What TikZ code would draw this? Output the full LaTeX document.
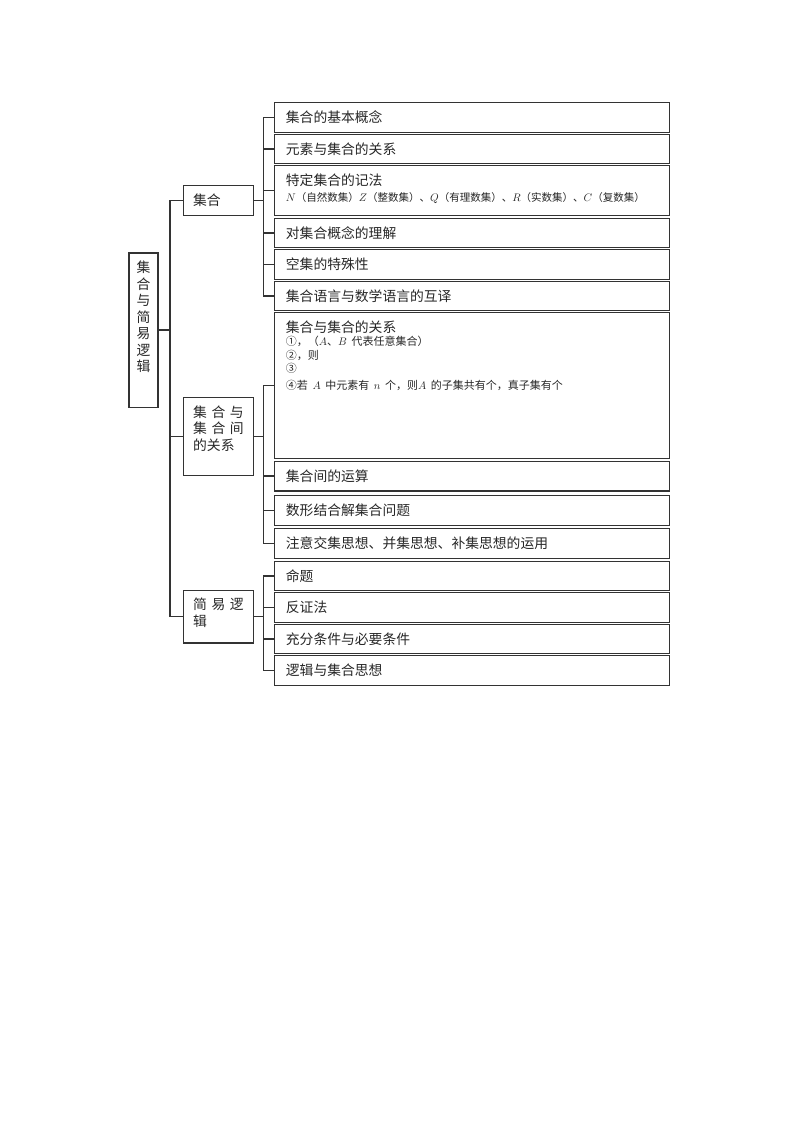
\documentclass[tikz,border=0pt]{standalone}
\usepackage{fontspec}
\newfontfamily\cjk{Noto Sans CJK SC}
\usepackage{tikz}
\usetikzlibrary{positioning,calc}

\begin{document}
\begin{tikzpicture}[
    x=1pt, y=-1pt,
    box/.style={draw=black!80, line width=1.3pt, text=black!85, anchor=north west, inner xsep=9.5pt, inner ysep=8pt, align=left, font=\cjk\fontsize{13.8}{16.5}\selectfont},
    root/.style={box, minimum width=29pt, text width=14pt, inner xsep=7.5pt, align=center},
    topic/.style={box, minimum width=70pt, text width=51pt},
    leaf/.style={box, minimum width=395.5pt, text width=372pt, inner xsep=11.5pt, minimum height=29.5pt},
    line/.style={draw=black!80, line width=1.3pt}
]
    \useasboundingbox (0,0) rectangle (800,1132);

    \node [root, text depth=126.6pt] (root) at (128.3,252.3) {集\\合\\与\\简\\易\\逻\\辑};

    \node [topic, minimum height=29.5pt] (sets) at (183,185) {集合};
    \node [topic, text depth=49.9pt] (relation) at (183,397) {集 合 与\\集 合 间\\的关系};
    \node [topic, text depth=25.1pt] (logic) at (183,589.5) {简 易 逻\\辑};

    \node [leaf] (basic) at (273.5,102) {集合的基本概念};
    \node [leaf] (member) at (273.5,133.5) {元素与集合的关系};
    \node [leaf, text depth=22.4pt] (notation) at (273.5,165) {特定集合的记法\par
        \fontsize{10.5}{13}\selectfont $N$（自然数集）$Z$（整数集）、$Q$（有理数集）、$R$（实数集）、$C$（复数集）};
    \node [leaf] (concept) at (273.5,217.5) {对集合概念的理解};
    \node [leaf] (empty) at (273.5,249) {空集的特殊性};
    \node [leaf] (language) at (273.5,280.5) {集合语言与数学语言的互译};
    \node [leaf, text depth=118.4pt] (subset) at (273.5,312) {集合与集合的关系\par
        \fontsize{11}{13.5}\selectfont ①，（$A$、$B$ 代表任意集合）\par
        ②，则\par
        ③\par
        ④若 $A$ 中元素有 $n$ 个，则$A$ 的子集共有个，真子集有个};
    \node [leaf] (operation) at (273.5,460.7) {集合间的运算};
    \node [leaf, minimum height=30pt] (graphic) at (273.5,494.5) {数形结合解集合问题};
    \node [leaf, minimum height=30pt] (thought) at (273.5,528) {注意交集思想、并集思想、补集思想的运用};
    \node [leaf] (prop) at (273.5,560.5) {命题};
    \node [leaf, minimum height=30pt] (contra) at (273.5,591.5) {反证法};
    \node [leaf] (condition) at (273.5,623.5) {充分条件与必要条件};
    \node [leaf, minimum height=30.5pt] (logicset) at (273.5,654.5) {逻辑与集合思想};

    \coordinate (busL) at (170,0);
    \coordinate (busR) at (263.3,0);

    \draw [line] (sets.west) -- (busL |- sets.west) -- (busL |- logic.west) -- (logic.west);
    \draw [line] (root.east) -- (busL |- root.east);
    \draw [line] (relation.west) -- (busL |- relation.west);

    \draw [line] (basic.west) -- (busR |- basic.west) -- (busR |- language.west) -- (language.west);
    \draw [line] (subset.west) -- (busR |- subset.west) -- (busR |- thought.west) -- (thought.west);
    \draw [line] (prop.west) -- (busR |- prop.west) -- (busR |- logicset.west) -- (logicset.west);

    \foreach \x in {member, notation, concept, empty, operation, graphic, contra, condition} {
        \draw [line] (\x.west) -- (busR |- \x.west);
    }
    \foreach \x in {sets, relation, logic} {
        \draw [line] (\x.east) -- (busR |- \x.east);
    }
\end{tikzpicture}
\end{document}
